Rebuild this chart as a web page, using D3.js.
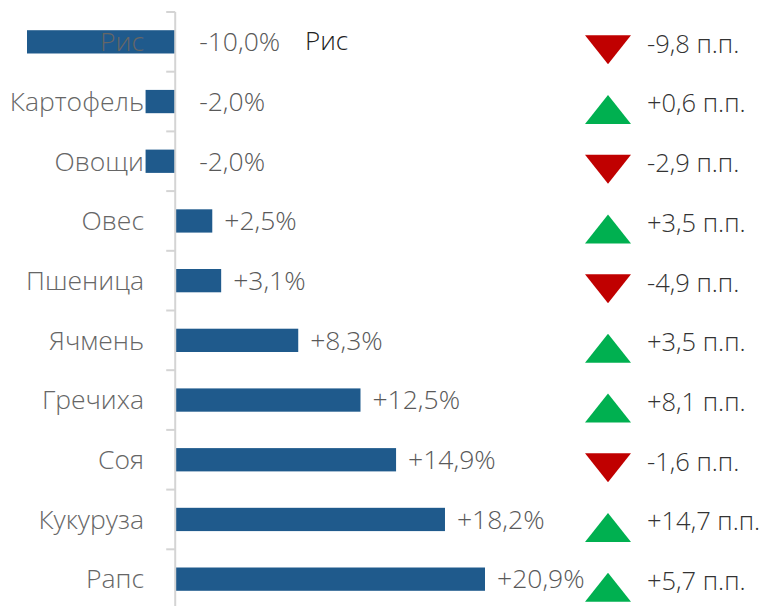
<!DOCTYPE html>
<html>
<head>
<meta charset="utf-8">
<script src="https://cdn.jsdelivr.net/npm/d3@7"></script>
<style>
  html, body { margin: 0; padding: 0; background: #fff; }
  svg { display: block; font-family: "Open Sans", sans-serif; }
</style>
</head>
<body>
<div id="chart"></div>
<script>
// Crops, change of share (%), change in percentage points
const categories = ['Рис', 'Картофель', 'Овощи', 'Овес', 'Пшеница', 'Ячмень', 'Гречиха', 'Соя', 'Кукуруза', 'Рапс'];
const values = [-10.0, -2.0, -2.0, 2.5, 3.1, 8.3, 12.5, 14.9, 18.2, 20.9];
const valueLabels = ['-10,0%', '-2,0%', '-2,0%', '+2,5%', '+3,1%', '+8,3%', '+12,5%', '+14,9%', '+18,2%', '+20,9%'];
const deltas = [-9.8, 0.6, -2.9, 3.5, -4.9, 3.5, 8.1, -1.6, 14.7, 5.7];
const deltaLabels = ['-9,8 п.п.', '+0,6 п.п.', '-2,9 п.п.', '+3,5 п.п.', '-4,9 п.п.', '+3,5 п.п.', '+8,1 п.п.', '-1,6 п.п.', '+14,7 п.п.', '+5,7 п.п.'];

const width = 764;
const height = 606;

const data = categories.map((c, i) => ({
  cat: c, value: values[i], label: valueLabels[i], delta: deltas[i], deltaLabel: deltaLabels[i]
}));

const svg = d3.select('#chart')
  .append('svg')
  .attr('width', width)
  .attr('height', height);

// Scales
const x = d3.scaleLinear()
  .domain([d3.min(values), d3.max(values)])
  .range([27, 485]);

const y = d3.scaleBand()
  .domain(categories)
  .range([12, 609])
  .paddingInner(0.61)
  .paddingOuter(0.305);

const x0 = x(0);
const mid = d => y(d.cat) + y.bandwidth() / 2;

// Bars
svg.append('g')
  .selectAll('rect')
  .data(data)
  .join('rect')
  .attr('x', d => Math.min(x(d.value), x0))
  .attr('y', d => y(d.cat))
  .attr('width', d => Math.abs(x(d.value) - x0))
  .attr('height', y.bandwidth())
  .attr('fill', '#1f5a8c');

// Axis line with ticks between bands
const axis = svg.append('g').attr('stroke', '#d4d4d4').attr('stroke-width', 2);
axis.append('line')
  .attr('x1', x0).attr('x2', x0)
  .attr('y1', y.range()[0]).attr('y2', height);
axis.selectAll('.tick')
  .data(d3.range(categories.length + 1))
  .join('line')
  .attr('class', 'tick')
  .attr('x1', x0 - 9).attr('x2', x0)
  .attr('y1', i => y.range()[0] + i * y.step())
  .attr('y2', i => y.range()[0] + i * y.step());

// Category labels
svg.append('g')
  .selectAll('text')
  .data(data)
  .join('text')
  .attr('x', 144)
  .attr('y', mid)
  .attr('dy', '0.35em')
  .attr('text-anchor', 'end')
  .attr('fill', '#666')
  .attr('font-size', 26.5)
  .attr('font-weight', 300)
  .text(d => d.cat);

// Value labels
svg.append('g')
  .selectAll('text')
  .data(data)
  .join('text')
  .attr('x', d => d.value < 0 ? x0 + 24 : x(d.value) + 12)
  .attr('y', mid)
  .attr('dy', '0.35em')
  .attr('fill', '#595959')
  .attr('font-size', 26.5)
  .attr('font-weight', 300)
  .text(d => d.label);

// Extra annotation next to the first value
svg.append('text')
  .attr('x', 305)
  .attr('y', mid(data[0]))
  .attr('dy', '0.3em')
  .attr('fill', '#222')
  .attr('font-size', 26)
  .attr('font-weight', 300)
  .text(categories[0]);

// Triangles for change in p.p.
const tri = 46, triH = 29, triX = 608;
svg.append('g')
  .selectAll('path')
  .data(data)
  .join('path')
  .attr('transform', d => `translate(${triX},${mid(d) + 8})`)
  .attr('d', d => d.delta >= 0
    ? `M${-tri / 2},${triH / 2}L${tri / 2},${triH / 2}L0,${-triH / 2}Z`
    : `M${-tri / 2},${-triH / 2}L${tri / 2},${-triH / 2}L0,${triH / 2}Z`)
  .attr('fill', d => d.delta >= 0 ? '#00b050' : '#c00000');

svg.append('g')
  .selectAll('text')
  .data(data)
  .join('text')
  .attr('x', 647)
  .attr('y', d => mid(d) + 2)
  .attr('dy', '0.35em')
  .attr('fill', '#333')
  .attr('font-size', 25.5)
  .attr('font-weight', 300)
  .text(d => d.deltaLabel);
</script>
</body>
</html>
